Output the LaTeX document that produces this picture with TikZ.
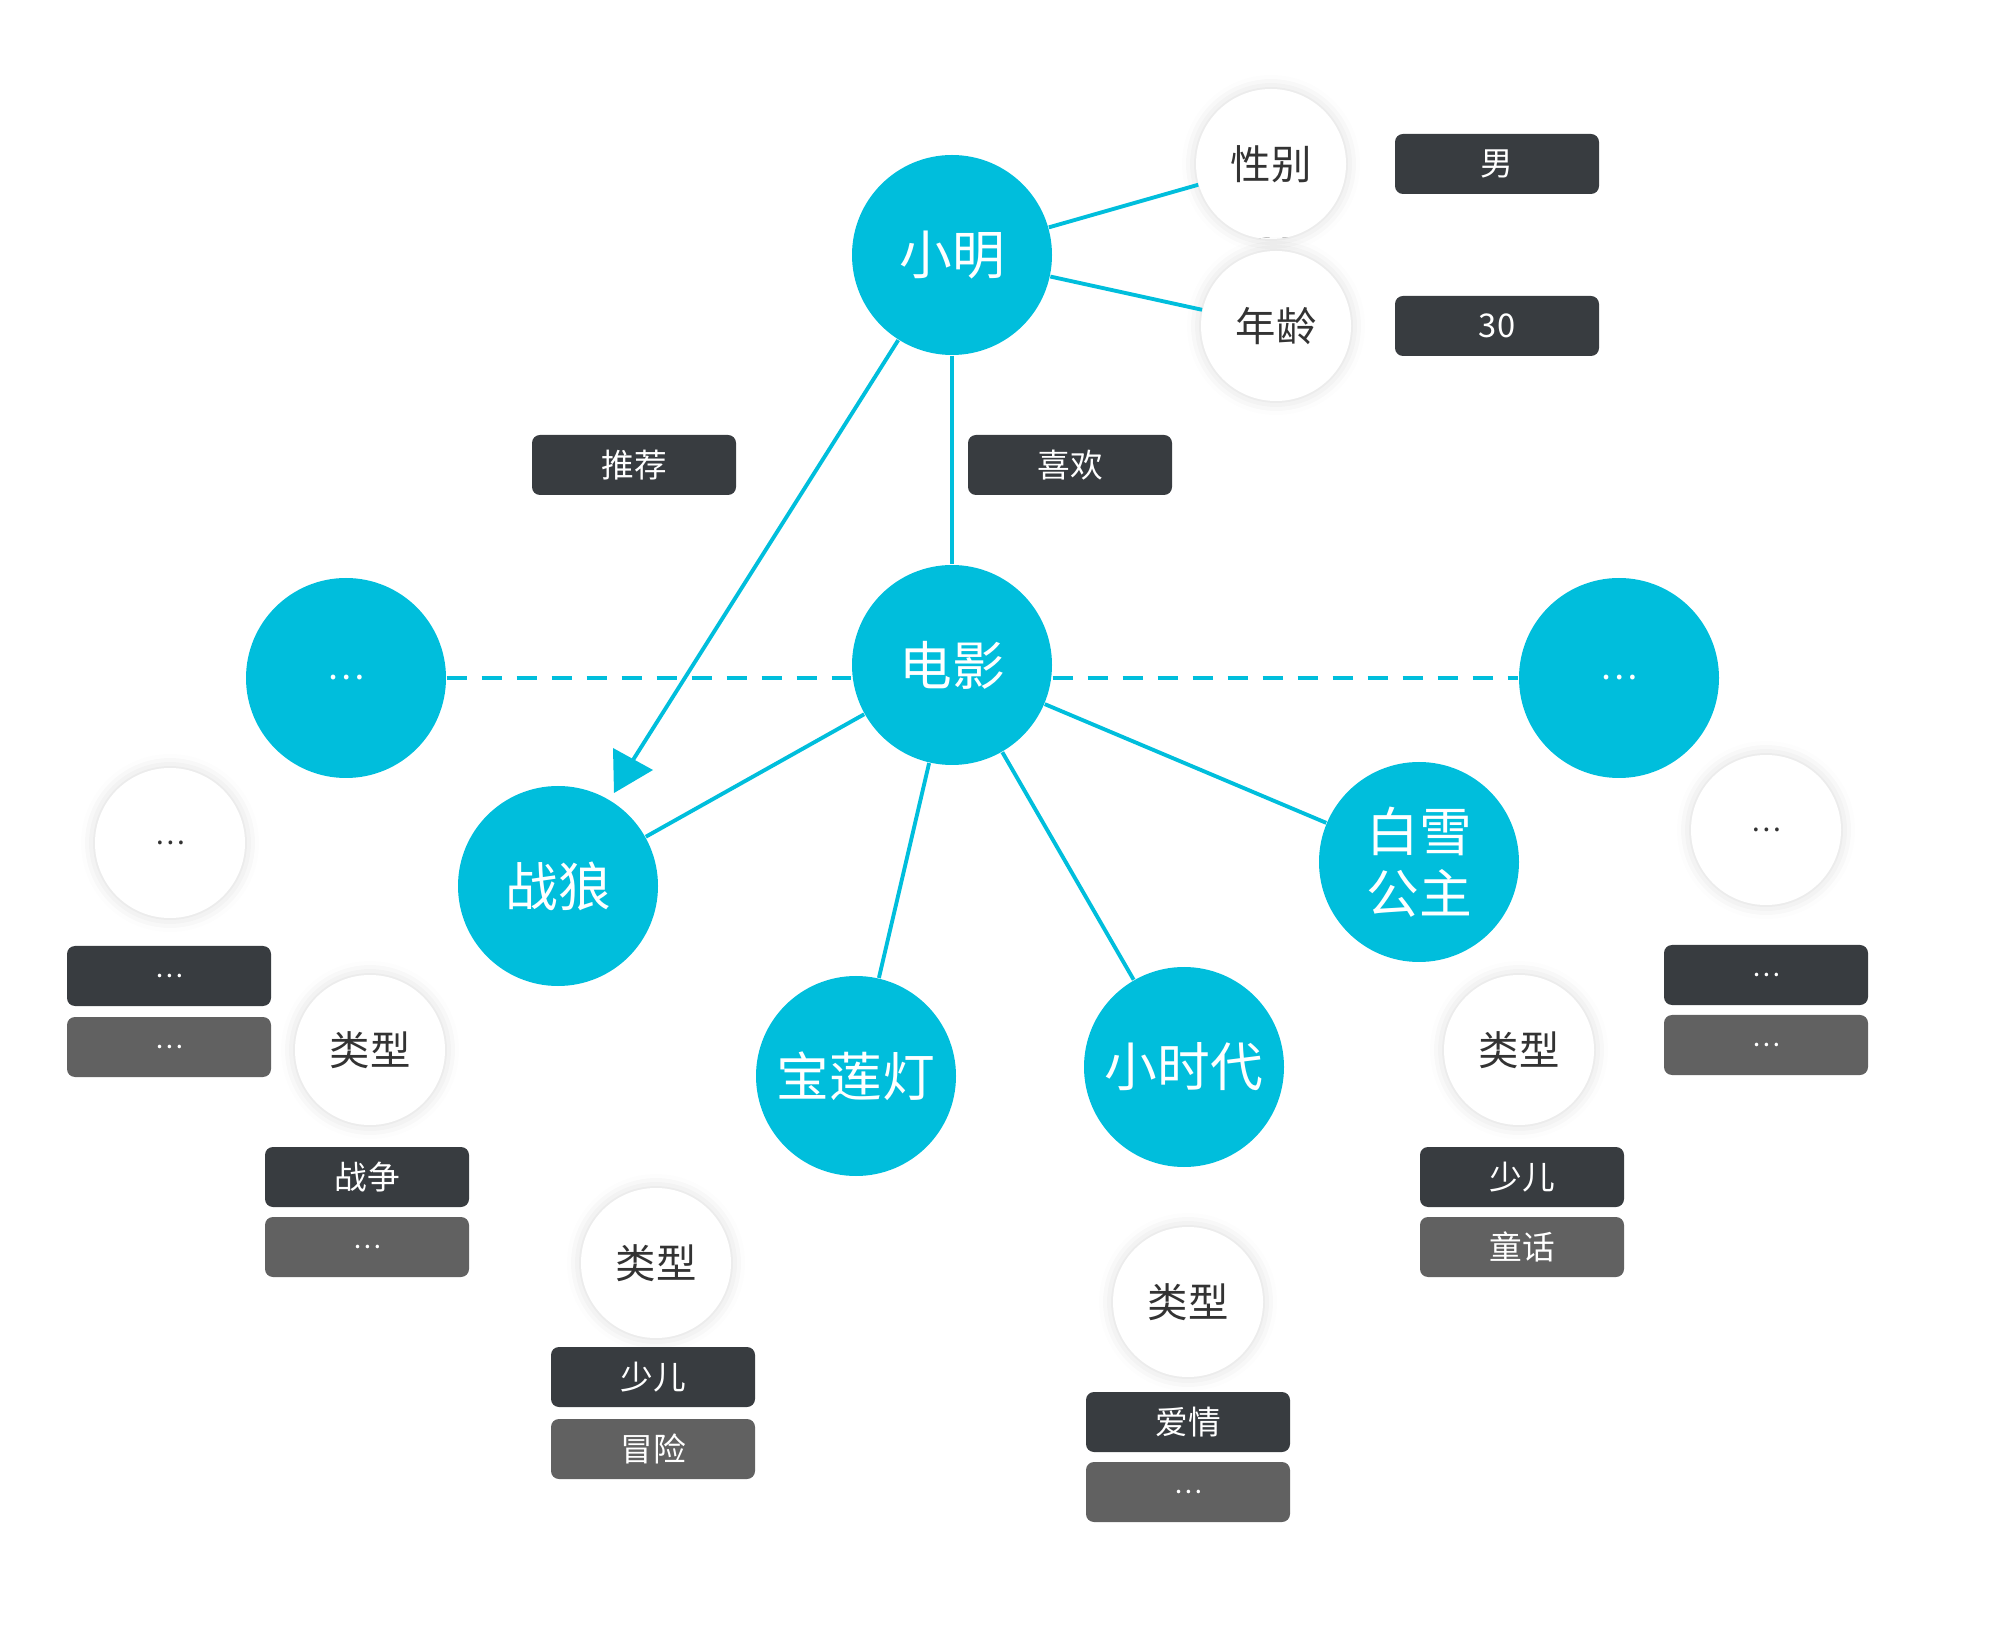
\documentclass[tikz,border=0pt]{standalone}
\usepackage{fontspec}
\setmainfont{Noto Sans CJK SC}
\usetikzlibrary{shadows.blur}
\definecolor{movieblue}{HTML}{00BEDC}
\definecolor{tagdark}{HTML}{383C40}
\definecolor{taggray}{HTML}{616161}
\definecolor{propgray}{HTML}{333333}
\tikzset{
  hub/.style={circle, fill=movieblue, minimum size=2cm, inner sep=0pt, text=white, font=\fontsize{15}{17.6}\selectfont},
  prop/.style={circle, fill=white, minimum size=1.5cm, inner sep=0pt, text=propgray, font=\fontsize{11.5}{13}\selectfont,
    blur shadow={shadow xshift=0pt, shadow yshift=0pt, shadow blur radius=0.14cm, shadow opacity=15}},
  tag/.style={rectangle, rounded corners=0.08cm, fill=tagdark, minimum width=2.04cm, minimum height=0.6cm, inner sep=0pt, text=white, font=\fontsize{9.3}{9.3}\selectfont},
  tagb/.style={tag, fill=taggray},
  link/.style={draw=movieblue, line width=1.1pt},
}
\begin{document}
\begin{tikzpicture}[xscale=1, yscale=-1]
	\useasboundingbox (0,0) rectangle (20,16.52);
	% user and its properties
	\node[hub] (xm) at (9.52,2.55) {小明};
	\node[prop] (xb) at (12.71,1.64) {性别};
	\node[prop] (nl) at (12.76,3.26) {年龄};
	\node[tag] (nan) at (14.97,1.64) {男};
	\node[tag] (age) at (14.97,3.26) {30};
	\node[tag] (tj) at (6.34,4.65) {推荐};
	\node[tag] (xh) at (10.70,4.65) {喜欢};
	% movies
	\node[hub] (dy) at (9.52,6.65) {电影};
	\node[hub, font=\fontsize{10}{10}\selectfont] (mL) at (3.46,6.78) {…};
	\node[hub, font=\fontsize{10}{10}\selectfont] (mR) at (16.19,6.78) {…};
	\node[hub] (zl) at (5.58,8.86) {战狼};
	\node[hub] (blb) at (8.56,10.76) {宝莲灯};
	\node[hub] (xsd) at (11.84,10.67) {小时代};
	\node[hub, align=center] (bx) at (14.19,8.62) {白雪\\公主};
	% movie properties
	\node[prop, font=\fontsize{8}{8}\selectfont] (pL) at (1.70,8.43) {…};
	\node[tag, font=\fontsize{7.5}{7.5}\selectfont] (pL1) at (1.69,9.76) {…};
	\node[tagb, font=\fontsize{7.5}{7.5}\selectfont] (pL2) at (1.69,10.47) {…};
	\node[prop] (lx1) at (3.70,10.50) {类型};
	\node[tag] (lx1a) at (3.67,11.77) {战争};
	\node[tagb, font=\fontsize{7.5}{7.5}\selectfont] (lx1b) at (3.67,12.47) {…};
	\node[prop] (lx2) at (6.56,12.63) {类型};
	\node[tag] (lx2a) at (6.53,13.77) {少儿};
	\node[tagb] (lx2b) at (6.53,14.49) {冒险};
	\node[prop] (lx3) at (11.88,13.02) {类型};
	\node[tag] (lx3a) at (11.88,14.22) {爱情};
	\node[tagb, font=\fontsize{7.5}{7.5}\selectfont] (lx3b) at (11.88,14.92) {…};
	\node[prop] (lx4) at (15.19,10.50) {类型};
	\node[tag] (lx4a) at (15.22,11.77) {少儿};
	\node[tagb] (lx4b) at (15.22,12.47) {童话};
	\node[prop, font=\fontsize{8}{8}\selectfont] (pR) at (17.66,8.30) {…};
	\node[tag, font=\fontsize{7.5}{7.5}\selectfont] (pR1) at (17.66,9.75) {…};
	\node[tagb, font=\fontsize{7.5}{7.5}\selectfont] (pR2) at (17.66,10.45) {…};
	% links
	\coordinate (tip) at (6.33,7.60);
	\draw[link] (xm) -- (xb);
	\draw[link] (xm) -- (nl);
	\draw[link] (xm) -- (dy);
	\draw[link] (xm) -- (tip);
	\fill[movieblue] (tip) ++(-0.20,-0.12) -- ++(0.40,0.22) -- ++(-0.39,0.23) -- cycle;
	\draw[link] (dy) -- (zl);
	\draw[link] (dy) -- (blb);
	\draw[link] (dy) -- (xsd);
	\draw[link] (dy) -- (bx);
	\draw[link, dash pattern=on 0.2cm off 0.15cm] (mL.east) -- (mL.east -| dy.west);
	\draw[link, dash pattern=on 0.2cm off 0.15cm] (dy.east |- mR.west) -- (mR.west);
\end{tikzpicture}
\end{document}
